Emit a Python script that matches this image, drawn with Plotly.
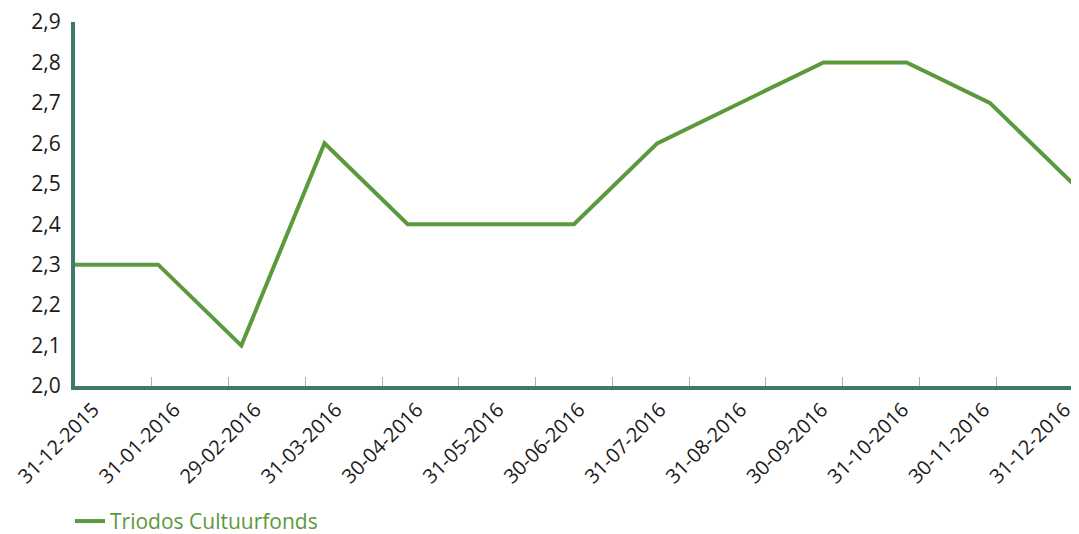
import plotly.graph_objects as go

dates = ["31-12-2015", "31-01-2016", "29-02-2016", "31-03-2016", "30-04-2016",
         "31-05-2016", "30-06-2016", "31-07-2016", "31-08-2016", "30-09-2016",
         "31-10-2016", "30-11-2016", "31-12-2016"]
values = [2.3, 2.3, 2.1, 2.6, 2.4, 2.4, 2.4, 2.6, 2.7, 2.8, 2.8, 2.7, 2.5]
series_name = "Triodos Cultuurfonds"
y_ticks = [2.0, 2.1, 2.2, 2.3, 2.4, 2.5, 2.6, 2.7, 2.8, 2.9]

LINE = "#5b9a3c"
AXIS = "#3e7a6b"
FONT = "Open Sans"

n = len(dates)
xs = list(range(n))
# label anchor positions (Excel-like slight offset from the points)
first_lab, last_lab = 0.22, 11.9
label_pos = [first_lab + i * (last_lab - first_lab) / (n - 1) for i in range(n)]
# tick marks at category boundaries
bound_pos = [k * (n - 1) / n for k in range(n + 1)]

fig = go.Figure()
fig.add_trace(go.Scatter(
    x=xs, y=values, mode="lines", name=series_name,
    line=dict(color=LINE, width=4), cliponaxis=False,
))
# invisible trace to activate the tick-mark axis
fig.add_trace(go.Scatter(x=[0, n - 1], y=[2.0, 2.0], xaxis="x2", mode="lines",
                         line=dict(width=0), showlegend=False, hoverinfo="skip"))

# page body has an 8px margin: size the figure so the plot area lands in place
fig.update_layout(
    width=1071, height=526,
    margin=dict(l=67, r=6, t=14, b=148, autoexpand=False),
    paper_bgcolor="white", plot_bgcolor="white",
    separators=",.",
    font=dict(family=FONT, size=21, color="#1a1a1a"),
    showlegend=True,
    legend=dict(orientation="h", x=-0.005, xanchor="left", y=-0.372, yanchor="middle",
                font=dict(family=FONT, size=21, color=LINE), itemwidth=30,
                bgcolor="rgba(0,0,0,0)"),
    xaxis=dict(range=[0, n - 1], tickmode="array", tickvals=label_pos, ticktext=dates,
               tickangle=-45, ticks="", showgrid=False, zeroline=False, automargin=False,
               ticklabeloverflow="allow",
               showline=True, linecolor=AXIS, linewidth=4, ticklabelstandoff=0,
               tickfont=dict(family=FONT, size=20, color="#1a1a1a")),
    xaxis2=dict(range=[0, n - 1], overlaying="x", anchor="y", side="bottom",
                tickmode="array", tickvals=bound_pos, showticklabels=False,
                ticks="inside", ticklen=9, tickcolor="#b0b0b0", tickwidth=1,
                showgrid=False, zeroline=False, showline=False, automargin=False),
    yaxis=dict(range=[2.0, 2.9], tickmode="array", tickvals=y_ticks, tickformat=".1f",
               ticks="", showgrid=False, zeroline=False, automargin=False,
               ticklabeloverflow="allow",
               showline=True, linecolor=AXIS, linewidth=4, ticklabelstandoff=6,
               tickfont=dict(family=FONT, size=21, color="#1a1a1a")),
)

fig.write_html("out.html")
